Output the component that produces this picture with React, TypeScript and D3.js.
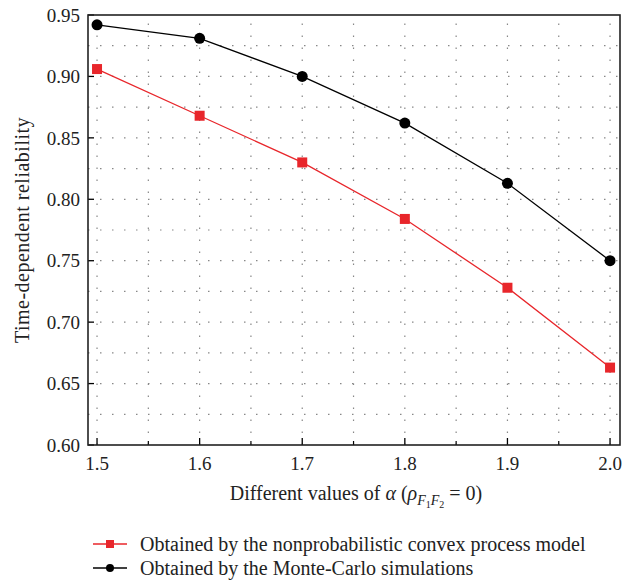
import React from "react";
import * as d3 from "d3";

const alphas = [1.5, 1.6, 1.7, 1.8, 1.9, 2.0];
const convexModel = [0.906, 0.868, 0.83, 0.784, 0.728, 0.663];
const monteCarlo = [0.942, 0.931, 0.9, 0.862, 0.813, 0.75];
const xTicks = [1.5, 1.6, 1.7, 1.8, 1.9, 2.0];
const yTicks = [0.6, 0.65, 0.7, 0.75, 0.8, 0.85, 0.9, 0.95];
const legendLabels = [
  "Obtained by the nonprobabilistic convex process model",
  "Obtained by the Monte-Carlo simulations",
];

const W = 636;
const H = 584;
const L = 88, T = 15, R = 620, B = 445;
const FONT = "Liberation Serif, Times New Roman, serif";

export default function App() {
  const x = d3.scaleLinear().domain([1.4912, 2.0097]).range([L, R]);
  const y = d3.scaleLinear().domain([0.6, 0.95]).range([B, T]);
  const line = d3.line<number>().x((_, i) => x(alphas[i])).y((d) => y(d));

  const xMinor = d3.range(1.5, 2.0001, 0.05);
  const yMinor = d3.range(0.6, 0.9501, 0.025);

  return (
    <svg width={W} height={H} style={{ position: "absolute", left: 0, top: 0, background: "#fff", fontFamily: FONT }}>
      <rect x={0} y={0} width={W} height={H} fill="#fff" />
      {yMinor.slice(1, -1).map((v, i) => (
        <line key={"gy" + i} x1={L} x2={R} y1={y(v)} y2={y(v)} stroke="#888" strokeWidth={1.2} strokeDasharray="1.5 10.5" />
      ))}
      {xMinor.map((v, i) => (
        <line key={"gx" + i} x1={x(v)} x2={x(v)} y1={B} y2={T} stroke="#888" strokeWidth={1.2} strokeDasharray="1.5 10.5" />
      ))}
      {yTicks.map((v, i) => (
        <line key={"ty" + i} x1={L} x2={L + 6} y1={y(v)} y2={y(v)} stroke="#000" strokeWidth={1.3} />
      ))}
      {xTicks.map((v, i) => (
        <line key={"tx" + i} x1={x(v)} x2={x(v)} y1={B} y2={B - 7} stroke="#000" strokeWidth={1.3} />
      ))}
      {xMinor.filter((_, i) => i % 2 === 1).map((v, i) => (
        <line key={"txm" + i} x1={x(v)} x2={x(v)} y1={B} y2={B - 4} stroke="#000" strokeWidth={1.2} />
      ))}
      <rect x={L} y={T} width={R - L} height={B - T} fill="none" stroke="#222" strokeWidth={1.6} />
      {yTicks.map((v, i) => (
        <text key={"ly" + i} x={L - 8} y={y(v)} dy="0.35em" textAnchor="end" fontSize={19} fill="#222">
          {v.toFixed(2)}
        </text>
      ))}
      {xTicks.map((v, i) => (
        <text key={"lx" + i} x={x(v)} y={B + 25} textAnchor="middle" fontSize={19} fill="#222">
          {v.toFixed(1)}
        </text>
      ))}
      <text transform={`translate(29,${(T + B) / 2}) rotate(-90)`} textAnchor="middle" fontSize={20} letterSpacing={0.5} fill="#222">
        Time-dependent reliability
      </text>
      <text x={(L + R) / 2 + 2} y={B + 55} textAnchor="middle" fontSize={20} fill="#222">
        Different values of <tspan fontStyle="italic">α</tspan> (<tspan fontStyle="italic">ρ</tspan>
        <tspan fontStyle="italic" fontSize={14} dy={5}>F</tspan>
        <tspan fontSize={10} dy={3}>1</tspan>
        <tspan fontStyle="italic" fontSize={14} dy={-3}>F</tspan>
        <tspan fontSize={10} dy={3}>2</tspan>
        <tspan dy={-8}> = 0)</tspan>
      </text>
      <path d={line(convexModel) || ""} fill="none" stroke="#e8262b" strokeWidth={1.3} />
      <path d={line(monteCarlo) || ""} fill="none" stroke="#000" strokeWidth={1.3} />
      {convexModel.map((v, i) => (
        <rect key={"r" + i} x={x(alphas[i]) - 5} y={y(v) - 5} width={10} height={10} fill="#e8262b" />
      ))}
      {monteCarlo.map((v, i) => (
        <circle key={"c" + i} cx={x(alphas[i])} cy={y(v)} r={5.5} fill="#000" />
      ))}
      <line x1={93} x2={127} y1={544} y2={544} stroke="#e8262b" strokeWidth={1.3} />
      <rect x={106} y={540} width={8} height={8} fill="#e8262b" />
      <text x={140} y={544} dy="0.35em" fontSize={20} fill="#222">{legendLabels[0]}</text>
      <line x1={93} x2={127} y1={568} y2={568} stroke="#000" strokeWidth={1.3} />
      <circle cx={110} cy={568} r={4} fill="#000" />
      <text x={140} y={568} dy="0.35em" fontSize={20} fill="#222">{legendLabels[1]}</text>
    </svg>
  );
}
